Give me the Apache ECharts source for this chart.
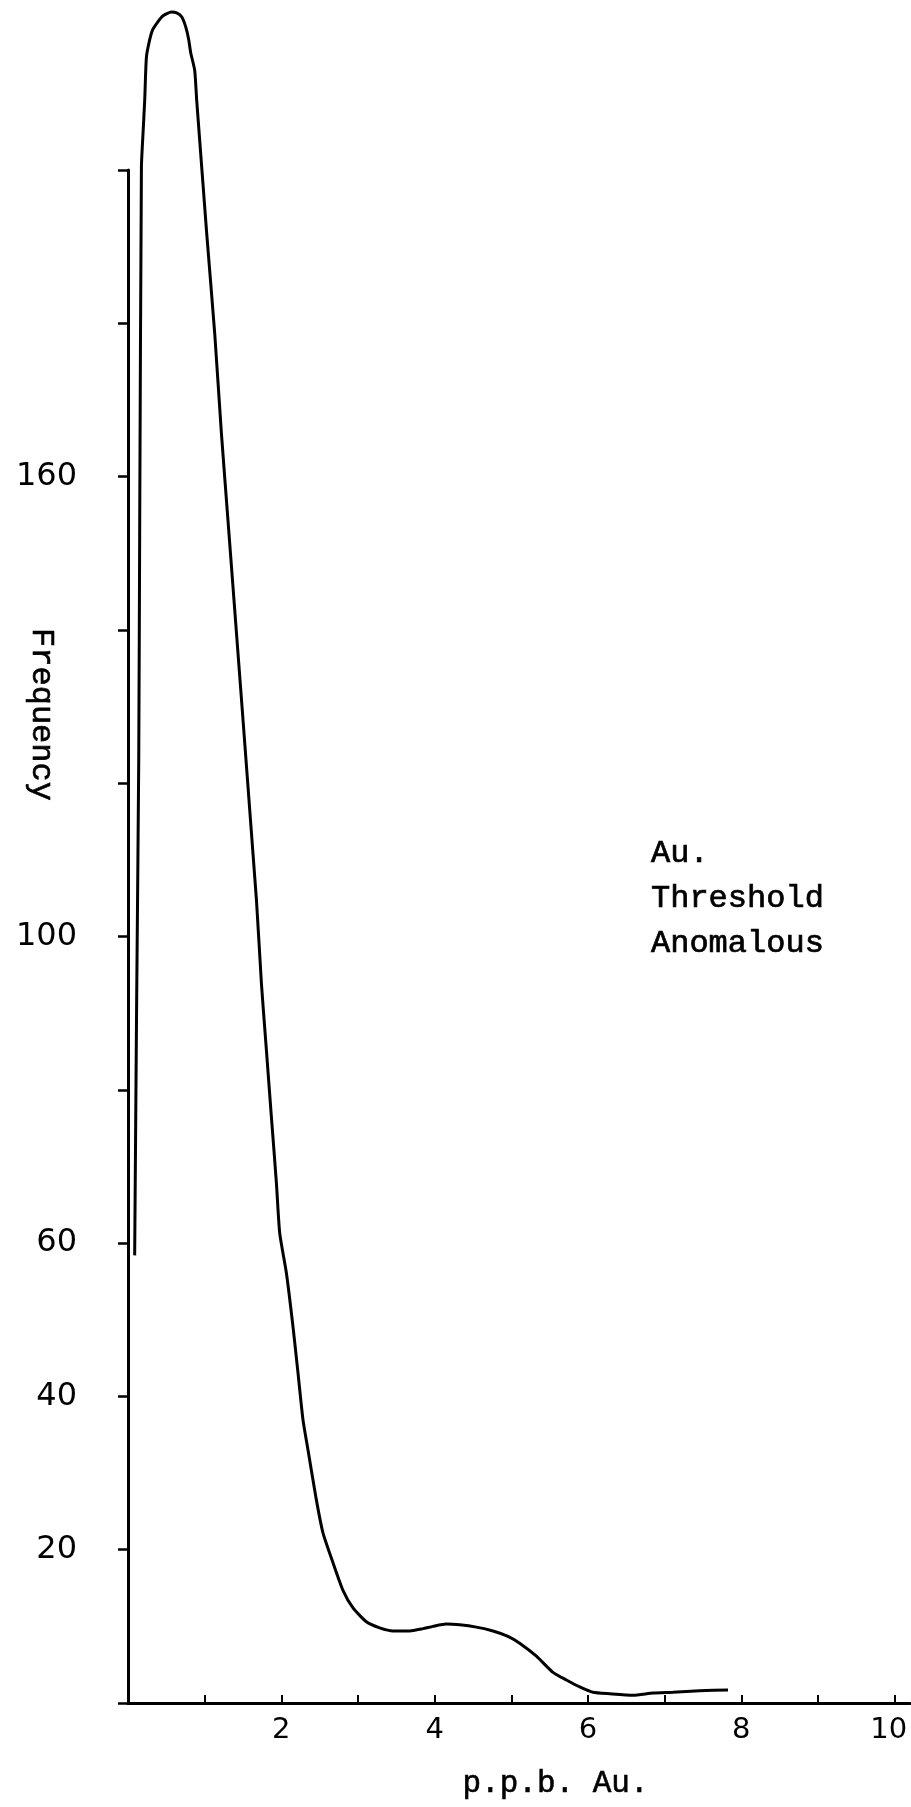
<!DOCTYPE html>
<html>
<head>
<meta charset="utf-8">
<title>Au frequency distribution</title>
<script src="https://cdn.jsdelivr.net/npm/echarts@6/dist/echarts.min.js"></script>
<style>
  html, body { margin: 0; padding: 0; background: #ffffff; }
  #chart { width: 911px; height: 1807px; }
</style>
</head>
<body>
<div id="chart"></div>
<script>
// Gold content (p.p.b. Au.) along the frequency curve
const ppbAu = [
  0.087, 0.113, 0.140, 0.153, 0.175, 0.196, 0.218, 0.240, 0.283, 0.322,
  0.387, 0.453, 0.566, 0.635, 0.700, 0.752, 0.792, 0.818, 0.870, 0.896,
  0.935, 1.026, 1.131, 1.218, 1.304, 1.675, 1.740, 1.805, 1.870, 1.936,
  1.979, 2.066, 2.152, 2.217, 2.283, 2.348, 2.457, 2.543, 2.674, 2.804,
  2.935, 3.109, 3.283, 3.456, 3.674, 3.848, 3.978, 4.153, 4.326, 4.544,
  4.761, 4.956, 5.109, 5.327, 5.543, 5.718, 5.892, 6.065, 6.283, 6.587,
  6.848, 7.108, 7.457, 7.826
];

// Frequency at each of the gold values above
const frequency = [
  58.4, 91.7, 123.0, 154.3, 200.4, 204.8, 209.1, 214.7, 217.0, 218.3,
  219.3, 220.1, 220.6, 220.5, 220.0, 218.7, 217.0, 215.3, 213.0, 209.1,
  203.9, 191.8, 178.7, 165.7, 154.3, 104.8, 93.9, 85.2, 76.5, 67.8,
  61.3, 56.1, 49.1, 43.1, 36.9, 33.0, 26.5, 22.2, 18.3, 14.7,
  12.4, 10.6, 9.8, 9.4, 9.4, 9.7, 10.0, 10.3, 10.2, 9.9,
  9.4, 8.7, 7.8, 6.1, 4.0, 3.0, 2.1, 1.4, 1.2, 1.0,
  1.3, 1.4, 1.6, 1.7
];

// Axis ticks and the values that carry a label
const xTickValues = [1, 2, 3, 4, 5, 6, 7, 8, 9, 10];
const xLabelValues = [2, 4, 6, 8, 10];
const yLabelValues = [20, 40, 60, 100, 160];

// Legend entries
const legendNames = ['Au.', 'Threshold', 'Anomalous'];

const curve = ppbAu.map((x, i) => [x, frequency[i]]);

const typeFont = "'Liberation Mono', 'DejaVu Sans Mono', monospace";
const digitFont = "'DejaVu Sans', 'Liberation Sans', sans-serif";

const chart = echarts.init(document.getElementById('chart'), null, { renderer: 'canvas' });

chart.setOption({
  animation: false,
  backgroundColor: '#ffffff',
  grid: {
    left: 128, top: 170, width: 782, height: 1533,
    containLabel: false,
    outerBoundsMode: 'none'
  },
  legend: {
    data: legendNames,
    orient: 'vertical',
    left: 641,
    top: 832,
    icon: 'none',
    itemWidth: 0,
    itemHeight: 0,
    itemGap: 12.5,
    selectedMode: false,
    textStyle: {
      fontFamily: typeFont, fontSize: 32, lineHeight: 32, color: '#000000',
      textBorderColor: '#000000', textBorderWidth: 0.7
    }
  },
  xAxis: {
    type: 'value',
    min: 0,
    max: 10.2,
    interval: 1,
    name: 'p.p.b. Au.',
    nameLocation: 'middle',
    nameGap: 65,
    nameMoveOverlap: false,
    nameTextStyle: {
      fontFamily: typeFont, fontSize: 31, color: '#000000',
      textBorderColor: '#000000', textBorderWidth: 0.6,
      padding: [0, 0, 0, 73]
    },
    splitLine: { show: false },
    axisLine: { lineStyle: { color: '#000000', width: 3 } },
    axisTick: {
      inside: true, length: 8, customValues: xTickValues,
      lineStyle: { color: '#000000', width: 2 }
    },
    axisLabel: {
      customValues: xLabelValues,
      margin: 13,
      fontFamily: digitFont, fontSize: 29, color: '#000000',
      // the last label sits at the right edge, so it is nudged inward
      formatter: (v) => (v >= 10 ? '{edge|' + v + '}' : String(v)),
      rich: {
        edge: {
          fontFamily: digitFont, fontSize: 29, color: '#000000',
          padding: [0, 12, 0, 0]
        }
      }
    }
  },
  yAxis: {
    type: 'value',
    min: 0,
    max: 200,
    interval: 20,
    name: 'Frequency',
    nameLocation: 'middle',
    nameRotate: -90,
    nameGap: 71,
    nameMoveOverlap: false,
    nameTextStyle: {
      fontFamily: typeFont, fontSize: 32, color: '#000000',
      textBorderColor: '#000000', textBorderWidth: 0.6,
      padding: [0, 444, 0, 0]
    },
    splitLine: { show: false },
    axisLine: { lineStyle: { color: '#000000', width: 3 } },
    axisTick: { length: 10, lineStyle: { color: '#000000', width: 2.5 } },
    axisLabel: {
      customValues: yLabelValues,
      margin: 51,
      fontFamily: digitFont, fontSize: 32, color: '#000000'
    }
  },
  series: [
    {
      name: 'Au.',
      type: 'line',
      data: curve,
      clip: false,
      showSymbol: false,
      symbol: 'none',
      smooth: 0.2,
      lineStyle: { color: '#000000', width: 3 }
    },
    { name: 'Threshold', type: 'line', data: [], symbol: 'none', lineStyle: { color: '#000000' } },
    { name: 'Anomalous', type: 'line', data: [], symbol: 'none', lineStyle: { color: '#000000' } }
  ]
});
</script>
</body>
</html>
